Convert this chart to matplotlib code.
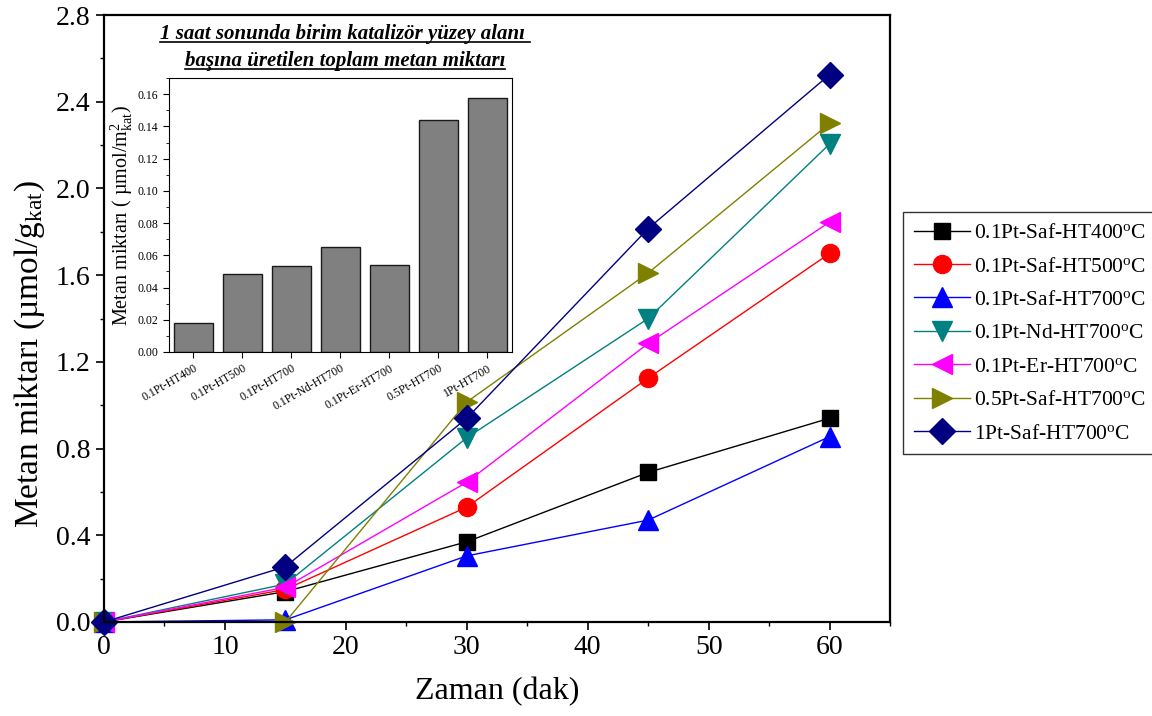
import matplotlib
matplotlib.use("Agg")
import matplotlib.pyplot as plt
from matplotlib.ticker import MultipleLocator
from matplotlib.lines import Line2D

plt.rcParams['font.family'] = ['Liberation Serif', 'DejaVu Serif']
plt.rcParams['mathtext.fontset'] = 'custom'
plt.rcParams['mathtext.rm'] = 'Liberation Serif'
plt.rcParams['mathtext.it'] = 'Liberation Serif:italic'

time_min = [0, 15, 30, 45, 60]
s_ht400 = [0.0, 0.14, 0.37, 0.69, 0.94]
s_ht500 = [0.0, 0.15, 0.53, 1.125, 1.70]
s_ht700 = [0.0, 0.01, 0.305, 0.47, 0.855]
s_nd700 = [0.0, 0.175, 0.85, 1.40, 2.205]
s_er700 = [0.0, 0.16, 0.645, 1.285, 1.845]
s_05pt = [0.0, 0.0, 1.015, 1.61, 2.30]
s_1pt = [0.0, 0.255, 0.94, 1.815, 2.525]

series_labels = ['0.1Pt-Saf-HT400$^{\\mathrm{o}}$C', '0.1Pt-Saf-HT500$^{\\mathrm{o}}$C',
                 '0.1Pt-Saf-HT700$^{\\mathrm{o}}$C', '0.1Pt-Nd-HT700$^{\\mathrm{o}}$C',
                 '0.1Pt-Er-HT700$^{\\mathrm{o}}$C', '0.5Pt-Saf-HT700$^{\\mathrm{o}}$C',
                 '1Pt-Saf-HT700$^{\\mathrm{o}}$C']

bar_cats = ['0.1Pt-HT400', '0.1Pt-HT500', '0.1Pt-HT700', '0.1Pt-Nd-HT700',
            '0.1Pt-Er-HT700', '0.5Pt-HT700', '1Pt-HT700']
bar_vals = [0.0177, 0.0485, 0.0531, 0.0649, 0.0541, 0.1438, 0.1579]

inset_title = ['1 saat sonunda birim katalizör yüzey alanı ',
               'başına üretilen toplam metan miktarı']

series = [s_ht400, s_ht500, s_ht700, s_nd700, s_er700, s_05pt, s_1pt]
colors = ['#000000', '#ff0000', '#0000ff', '#008080', '#ff00ff', '#808000', '#000080']
markers = ['s', 'o', '^', 'v', '<', '>', 'D']
msizes = [12, 13, 15, 15, 15, 15, 13]

fig = plt.figure(figsize=(11.52, 7.16), dpi=100)
ax = fig.add_axes([0.0903, 0.1313, 0.6823, 0.8477])

for ys, c, m, ms, lab in zip(series, colors, markers, msizes, series_labels):
    ax.plot(time_min, ys, color=c, marker=m, markersize=ms, linewidth=1,
            markeredgecolor=c, label=lab, clip_on=False)

ax.set_xlim(0, 65)
ax.set_ylim(0, 2.8)
ax.xaxis.set_major_locator(MultipleLocator(10))
ax.xaxis.set_minor_locator(MultipleLocator(5))
ax.yaxis.set_major_locator(MultipleLocator(0.4))
ax.yaxis.set_minor_locator(MultipleLocator(0.2))
ax.yaxis.set_major_formatter(plt.FuncFormatter(lambda v, p: f"{v:.1f}"))
ax.tick_params(which='major', direction='out', length=6, width=1.2, labelsize=20)
ax.tick_params(which='minor', direction='out', length=3, width=1.0)
for sp in ax.spines.values():
    sp.set_linewidth(1.6)
ax.set_xlabel('Zaman (dak)', fontsize=23, labelpad=12)
ax.set_ylabel('Metan miktarı (µmol/g$_{\\mathrm{kat}}$)', fontsize=24)
ax.yaxis.set_label_coords(-0.072, 0.442)

leg = ax.legend(loc='upper left', bbox_to_anchor=(1.017, 0.675), fontsize=15.5,
                frameon=True, fancybox=False, edgecolor='black', borderpad=0.5,
                labelspacing=0.62, handlelength=2.6, handletextpad=0.2, borderaxespad=0)
leg.get_frame().set_linewidth(1.0)

# inset
ins = fig.add_axes([0.1467, 0.5084, 0.2977, 0.3826])
xpos = list(range(len(bar_cats)))
ins.bar(xpos, bar_vals, width=0.8, color='#808080', edgecolor='#1a1a1a', linewidth=1.0)
ins.set_xlim(-0.5, 6.5)
ins.set_ylim(0, 0.17)
ins.yaxis.set_major_locator(MultipleLocator(0.02))
ins.yaxis.set_minor_locator(MultipleLocator(0.01))
ins.yaxis.set_major_formatter(plt.FuncFormatter(lambda v, p: f"{v:.2f}"))
ins.set_xticks(xpos)
ins.set_xticklabels(bar_cats, rotation=30, ha='right', rotation_mode='anchor', fontsize=8.5)
ins.tick_params(axis='y', which='major', direction='out', length=4, labelsize=8.5)
ins.tick_params(axis='y', which='minor', direction='out', length=2)
ins.tick_params(axis='x', direction='out', length=4)
ins.set_ylabel('Metan miktarı ( µmol/m$^{2}_{\\mathrm{kat}}$)', fontsize=14.5, labelpad=2)

t1 = fig.text(0.5 * (0.1467 + 0.4444) + 0.004, 0.953, inset_title[0], ha='center', va='center',
              fontsize=15, fontweight='bold', fontstyle='italic')
t2 = fig.text(0.5 * (0.1467 + 0.4444) + 0.004, 0.915, inset_title[1], ha='center', va='center',
              fontsize=15, fontweight='bold', fontstyle='italic')
fig.canvas.draw()
r = fig.canvas.get_renderer()
inv = fig.transFigure.inverted()
for t in (t1, t2):
    bb = t.get_window_extent(r)
    (x0, y0), (x1, _) = inv.transform([[bb.x0, bb.y0], [bb.x1, bb.y1]])
    fig.add_artist(Line2D([x0, x1], [y0 + 0.002, y0 + 0.002], transform=fig.transFigure,
                          color='black', lw=1.2))

fig.savefig('out.png', dpi=100)
